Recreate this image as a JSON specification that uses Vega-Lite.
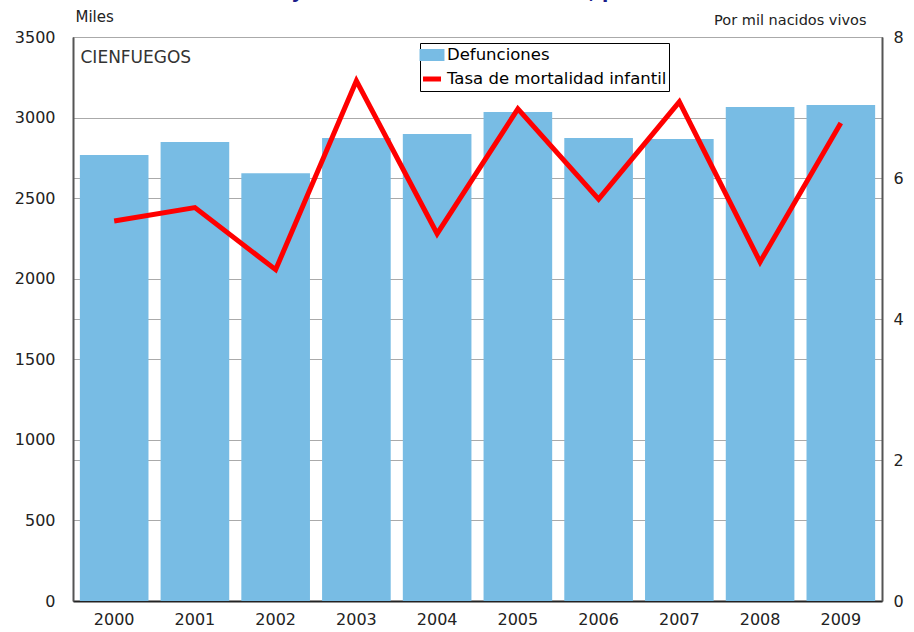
{
  "$schema": "https://vega.github.io/schema/vega-lite/v6.json",
  "width": 809,
  "height": 564,
  "autosize": "none",
  "padding": {"left": 73, "top": 37, "right": 32, "bottom": 31},
  "background": "white",
  "title": {
    "text": "Defunciones y tasa de mortalidad infantil, período 2000-2009",
    "font": "DejaVu Sans",
    "fontSize": 18.5,
    "fontWeight": "bold",
    "color": "#1c1c8a",
    "anchor": "middle",
    "frame": "group",
    "baseline": "alphabetic",
    "offset": -7
  },
  "config": {
    "view": {"stroke": "black", "strokeWidth": 1},
    "font": "DejaVu Sans"
  },
  "data": {
    "values": [
      {"year": "2000", "def": 2768, "tasa": 5.39},
      {"year": "2001", "def": 2848, "tasa": 5.58},
      {"year": "2002", "def": 2655, "tasa": 4.70},
      {"year": "2003", "def": 2873, "tasa": 7.38},
      {"year": "2004", "def": 2898, "tasa": 5.21},
      {"year": "2005", "def": 3035, "tasa": 6.98},
      {"year": "2006", "def": 2873, "tasa": 5.70},
      {"year": "2007", "def": 2867, "tasa": 7.08},
      {"year": "2008", "def": 3066, "tasa": 4.81},
      {"year": "2009", "def": 3078, "tasa": 6.78}
    ]
  },
  "encoding": {
    "x": {
      "field": "year",
      "type": "ordinal",
      "scale": {"paddingInner": 0.15, "paddingOuter": 0.085},
      "axis": {
        "labelAngle": 0,
        "labelFont": "DejaVu Sans",
        "labelFontSize": 16,
        "labelColor": "#222",
        "labelPadding": 10,
        "ticks": false,
        "domainColor": "#222",
        "domainWidth": 2,
        "title": "CIENFUEGOS",
        "titleX": 7,
        "titleY": -544,
        "titleAlign": "left",
        "titleBaseline": "middle",
        "titleFont": "DejaVu Sans",
        "titleFontSize": 17,
        "titleFontWeight": "normal",
        "titleColor": "#333"
      }
    }
  },
  "layer": [
    {
      "mark": {"type": "bar"},
      "encoding": {
        "y": {
          "field": "def",
          "type": "quantitative",
          "scale": {"domain": [0, 3500], "nice": false},
          "axis": {
            "values": [0, 500, 1000, 1500, 2000, 2500, 3000, 3500],
            "format": "d",
            "title": "Miles",
            "titleAngle": 0,
            "titleX": 2,
            "titleY": -21,
            "titleAlign": "left",
            "titleBaseline": "middle",
            "titleFont": "DejaVu Sans",
            "titleFontSize": 15,
            "titleFontWeight": "normal",
            "titleColor": "#222",
            "labelFont": "DejaVu Sans",
            "labelFontSize": 16,
            "labelColor": "#222",
            "labelPadding": 18,
            "ticks": false,
            "domainColor": "#555",
            "domainWidth": 2,
            "grid": true,
            "gridColor": "#aaaaaa",
            "gridWidth": 1
          }
        },
        "color": {
          "datum": "Defunciones",
          "type": "nominal",
          "scale": {
            "domain": ["Defunciones", "Tasa de mortalidad infantil"],
            "range": ["#78BCE4", "#FF0000"]
          },
          "legend": {
            "orient": "none",
            "legendX": 347,
            "legendY": 6,
            "title": null,
            "strokeColor": "black",
            "fillColor": "white",
            "padding": 2,
            "labelFont": "DejaVu Sans",
            "labelFontSize": 16.5,
            "labelColor": "black",
            "labelLimit": 400,
            "labelOffset": 5,
            "rowPadding": 0,
            "symbolSize": 225,
            "symbolStrokeWidth": 0,
            "encode": {
              "symbols": {
                "update": {
                  "shape": {"signal": "datum.value === 'Defunciones' ? 'M-1.33,-0.47H1.33V0.47H-1.33Z' : 'M-1.2,0H1.2'"},
                  "fill": {"signal": "datum.value === 'Defunciones' ? '#78BCE4' : 'transparent'"},
                  "stroke": {"signal": "datum.value === 'Defunciones' ? 'transparent' : '#FF0000'"},
                  "strokeWidth": {"value": 5}
                }
              }
            }
          }
        }
      }
    },
    {
      "mark": {"type": "line", "strokeWidth": 5},
      "encoding": {
        "y": {
          "field": "tasa",
          "type": "quantitative",
          "scale": {"domain": [0, 8], "nice": false},
          "axis": {
            "orient": "right",
            "values": [0, 2, 4, 6, 8],
            "title": "Por mil nacidos vivos",
            "titleAngle": 0,
            "titleX": -16,
            "titleY": -17,
            "titleAlign": "right",
            "titleBaseline": "middle",
            "titleFont": "DejaVu Sans",
            "titleFontSize": 14.5,
            "titleFontWeight": "normal",
            "titleColor": "#222",
            "labelFont": "DejaVu Sans",
            "labelFontSize": 16,
            "labelColor": "#222",
            "labelPadding": 11,
            "ticks": false,
            "domainColor": "#555",
            "domainWidth": 2,
            "grid": true,
            "gridColor": "#aaaaaa",
            "gridWidth": 1
          }
        },
        "color": {"datum": "Tasa de mortalidad infantil", "type": "nominal"}
      }
    }
  ],
  "resolve": {"scale": {"y": "independent"}}
}
